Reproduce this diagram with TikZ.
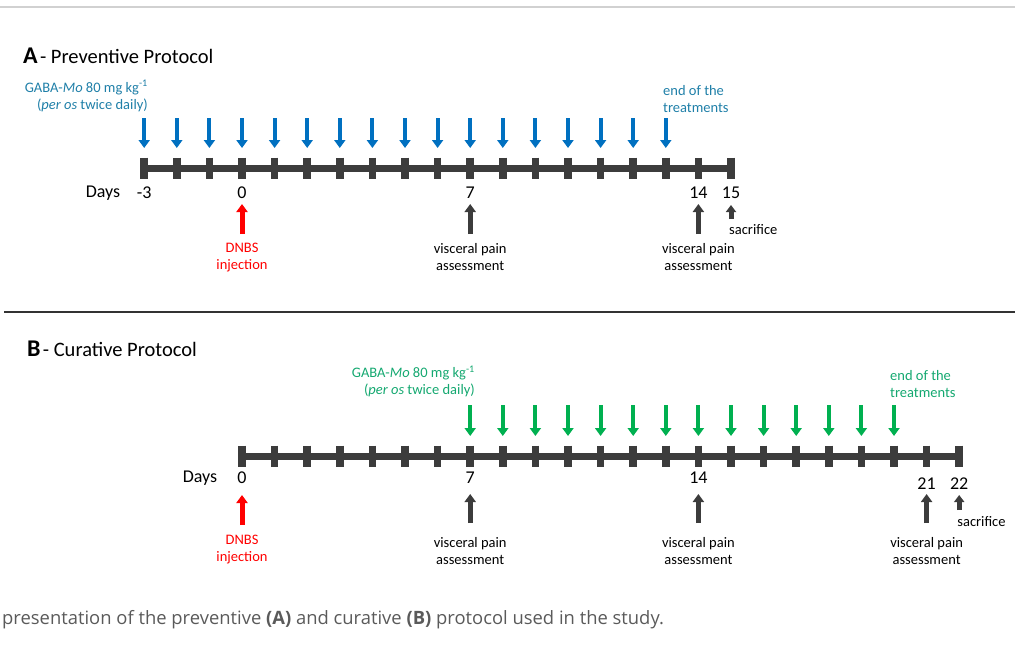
\documentclass[tikz,border=0pt]{standalone}
\usepackage{fontspec}
\setmainfont{Carlito}
\newfontfamily\capfont{Open Sans}
\usetikzlibrary{arrows.meta,positioning}
\usepackage{xcolor}

\definecolor{barGray}{HTML}{3C3C3C}
\definecolor{doseBlue}{HTML}{0070C0}
\definecolor{textBlue}{HTML}{1F7FA8}
\definecolor{doseGreen}{HTML}{00B050}
\definecolor{textGreen}{HTML}{14A870}
\definecolor{dnbsRed}{HTML}{FF0000}
\definecolor{capGray}{HTML}{5A5A5A}

\begin{document}
\begin{tikzpicture}[x=1pt,y=-1pt,
    lbl/.style={inner sep=0pt,align=center,font=\fontsize{14.5}{17}\selectfont},
    daynum/.style={inner sep=0pt,font=\fontsize{18}{20}\selectfont},
    bar/.style={draw=barGray,line width=7pt},
    tickmark/.style={draw=barGray,line width=7.5pt},
    dosearrow/.style={line width=4pt,-{Triangle[width=11pt,length=8pt]}},
    uparrow/.style={line width=5pt,-{Triangle[width=11pt,length=8pt]}}]
    \useasboundingbox (0,0) rectangle (1015,653);

    % frame lines
    \draw[black!18,line width=1.5pt] (0,7) -- (1015,7);
    \draw[black!80,line width=1.5pt] (4,312) -- (1015,312);

    % ---------------- A - preventive ----------------
    \node[inner sep=0pt,anchor=base west] (titleA) at (23,63)
        {{\fontsize{24}{26}\selectfont\bfseries A} {\fontsize{20.5}{22}\selectfont - Preventive Protocol}};

    % timeline
    \foreach \d in {-3,...,15}
        \coordinate (dA\d) at ({242+32.6*\d},168);
    \draw[bar] (dA-3) -- (dA15);
    \foreach \d in {-3,...,15}
        \draw[tickmark] ([yshift=10.5pt]dA\d) -- ([yshift=-10.5pt]dA\d);

    % treatment
    \foreach \d in {-3,...,13}
        \draw[dosearrow,doseBlue] ([yshift=50pt]dA\d) -- ([yshift=20pt]dA\d);
    \node[lbl,align=right,anchor=east,textBlue] (gabaA) at (148,96)
        {GABA-\textit{Mo} 80 mg kg\textsuperscript{-1}\\(\textit{per os} twice daily)};
    \node[lbl,align=left,anchor=west,textBlue] (endA) at (663,99) {end of the\\treatments};

    % days
    \node[daynum] (daysA) at (103,193) {Days};
    \foreach \d in {-3,0,7,14,15}
        \node[daynum] (nA\d) at ([yshift=-25pt]dA\d) {\d};

    % events
    \draw[uparrow,dnbsRed] ([yshift=-66pt]dA0) -- ([yshift=-36pt]dA0);
    \node[lbl,dnbsRed] (dnbsA) at ([yshift=-90pt]dA0) {DNBS\\injection};
    \foreach \d in {7,14} {
        \draw[uparrow,barGray] ([yshift=-66pt]dA\d) -- ([yshift=-36pt]dA\d);
        \node[lbl] (painA\d) at ([yshift=-89pt]dA\d) {visceral pain\\assessment};
    }
    \draw[uparrow,barGray,-{Triangle[width=10pt,length=7pt]}] ([yshift=-51pt]dA15) -- ([yshift=-37pt]dA15);
    \node[lbl,anchor=west] (sacA) at ([shift={(-2pt,-62pt)}]dA15) {sacrifice};

    % ---------------- B - curative ----------------
    \node[inner sep=0pt,anchor=base west] (titleB) at (27,356)
        {{\fontsize{24}{26}\selectfont\bfseries B} {\fontsize{20.5}{22}\selectfont - Curative Protocol}};

    % timeline
    \foreach \d in {0,...,22}
        \coordinate (dB\d) at ({242+32.6*\d},456);
    \draw[bar] (dB0) -- (dB22);
    \foreach \d in {0,...,22}
        \draw[tickmark] ([yshift=10.5pt]dB\d) -- ([yshift=-10.5pt]dB\d);

    % treatment
    \foreach \d in {7,...,20}
        \draw[dosearrow,doseGreen] ([yshift=51pt]dB\d) -- ([yshift=20pt]dB\d);
    \node[lbl,align=right,anchor=east,textGreen] (gabaB) at (475,381.5)
        {GABA-\textit{Mo} 80 mg kg\textsuperscript{-1}\\(\textit{per os} twice daily)};
    \node[lbl,align=left,anchor=west,textGreen] (endB) at (890,384) {end of the\\treatments};

    % days
    \node[daynum] (daysB) at (200,478) {Days};
    \foreach \d in {0,7,14}
        \node[daynum] (nB\d) at ([yshift=-22pt]dB\d) {\d};
    \foreach \d in {21,22}
        \node[daynum] (nB\d) at ([yshift=-28pt]dB\d) {\d};

    % events
    \draw[uparrow,dnbsRed] ([yshift=-69pt]dB0) -- ([yshift=-39pt]dB0);
    \node[lbl,dnbsRed] (dnbsB) at ([yshift=-94pt]dB0) {DNBS\\injection};
    \foreach \d in {7,14,21} {
        \draw[uparrow,barGray] ([yshift=-67pt]dB\d) -- ([yshift=-38pt]dB\d);
        \node[lbl] (painB\d) at ([yshift=-95pt]dB\d) {visceral pain\\assessment};
    }
    \draw[uparrow,barGray,-{Triangle[width=10pt,length=7pt]}] ([yshift=-54pt]dB22) -- ([yshift=-39pt]dB22);
    \node[lbl,anchor=west] (sacB) at ([shift={(-2pt,-66pt)}]dB22) {sacrifice};

    % caption
    \node[inner sep=0pt,anchor=west,capGray,font=\capfont\fontsize{18.4}{22}\selectfont] (caption) at (2,620)
        {presentation of the preventive \textbf{(A)} and curative \textbf{(B)} protocol used in the study.};
\end{tikzpicture}
\end{document}
